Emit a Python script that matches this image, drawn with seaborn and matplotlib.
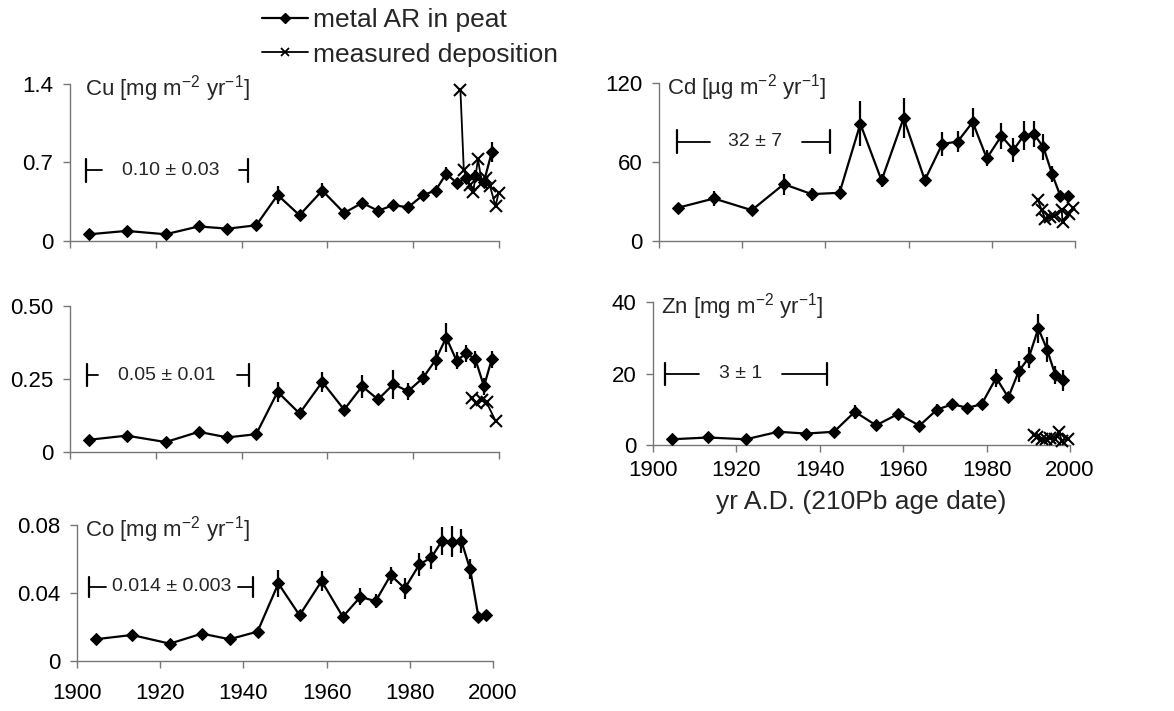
import numpy as np
import pandas as pd
import matplotlib
matplotlib.use("Agg")
import matplotlib.pyplot as plt
from matplotlib.lines import Line2D
import seaborn as sns

# ---- data -------------------------------------------------------------
years = [1904.5, 1913.2, 1922.3, 1930.0, 1936.7, 1943.4, 1948.4, 1953.5,
         1958.8, 1963.9, 1968.1, 1971.8, 1975.4, 1978.8, 1982.3, 1985.2,
         1987.7, 1990.1, 1992.4, 1994.5, 1996.5, 1998.3]

cu_peat = [0.06, 0.09, 0.06, 0.13, 0.11, 0.14, 0.41, 0.23, 0.45, 0.25, 0.34,
           0.27, 0.32, 0.30, 0.41, 0.45, 0.60, 0.52, 0.56, 0.58, 0.53, 0.79]
cu_err = [0.01, 0.01, 0.01, 0.02, 0.01, 0.02, 0.08, 0.02, 0.07, 0.02, 0.02,
          0.02, 0.03, 0.05, 0.04, 0.03, 0.06, 0.04, 0.04, 0.05, 0.03, 0.09]
cu_dep_years = [1991.0, 1991.8, 1993.2, 1994.0, 1995.1, 1996.0, 1996.9,
                1997.9, 1999.2, 1999.9]
cu_dep = [1.35, 0.63, 0.50, 0.44, 0.73, 0.52, 0.56, 0.49, 0.31, 0.43]

x_peat = [0.042, 0.056, 0.034, 0.069, 0.050, 0.061, 0.206, 0.132, 0.240,
          0.145, 0.225, 0.180, 0.232, 0.208, 0.254, 0.315, 0.392, 0.313,
          0.338, 0.317, 0.225, 0.317]
x_err = [0.008, 0.008, 0.006, 0.018, 0.008, 0.010, 0.035, 0.010, 0.035,
         0.015, 0.040, 0.020, 0.050, 0.030, 0.025, 0.035, 0.050, 0.030,
         0.030, 0.030, 0.030, 0.030]
x_dep_years = [1993.6, 1994.6, 1996.1, 1997.1, 1999.2]
x_dep = [0.186, 0.169, 0.177, 0.170, 0.106]

co_peat = [0.0128, 0.0153, 0.0102, 0.0161, 0.0128, 0.0173, 0.0456, 0.0269,
           0.0470, 0.0260, 0.0377, 0.0352, 0.0505, 0.0427, 0.0568, 0.0609,
           0.0706, 0.0702, 0.0706, 0.0540, 0.0260, 0.0269]
co_err = [0.001, 0.002, 0.001, 0.001, 0.001, 0.001, 0.008, 0.003, 0.006,
          0.002, 0.005, 0.004, 0.005, 0.006, 0.007, 0.007, 0.008, 0.009,
          0.007, 0.006, 0.002, 0.002]

cd_peat = [25.2, 32.3, 23.4, 43.2, 35.6, 36.6, 89.0, 46.0, 93.3, 46.3, 73.7,
           75.5, 90.3, 62.8, 79.8, 69.2, 80.1, 81.4, 71.2, 50.8, 34.1, 34.1]
cd_err = [4, 6, 3, 8, 5, 5, 17, 5, 15, 4, 9, 8, 11, 6, 10, 9, 11, 10, 10, 6,
          3, 3]
cd_dep_years = [1991.1, 1992.0, 1992.9, 1993.9, 1994.9, 1996.8, 1997.0,
                1998.6, 1999.6]
cd_dep = [31.0, 23.4, 16.5, 18.3, 19.1, 23.9, 14.5, 20.8, 25.2]

zn_peat = [1.6, 2.1, 1.6, 3.7, 3.2, 3.7, 9.3, 5.5, 8.7, 5.4, 9.9, 11.4, 10.4,
           11.4, 18.8, 13.3, 20.6, 24.4, 32.6, 26.7, 19.5, 18.1]
zn_err = [0.6, 0.6, 0.6, 0.8, 0.6, 0.8, 2.0, 1.0, 1.5, 1.0, 1.5, 1.5, 1.2,
          1.5, 2.5, 1.5, 3.0, 3.0, 4.0, 3.5, 2.5, 3.0]
zn_dep_years = [1991.4, 1992.2, 1993.2, 1994.2, 1995.2, 1996.4, 1997.4,
                1998.0, 1999.6]
zn_dep = [2.7, 2.2, 1.6, 1.8, 1.9, 1.6, 3.5, 1.2, 1.8]

x_ticks = [1900, 1920, 1940, 1960, 1980, 2000]

# ---- style ------------------------------------------------------------
sns.set_theme(style="ticks")
plt.rcParams["font.family"] = ["Liberation Sans", "DejaVu Sans"]
plt.rcParams["mathtext.fontset"] = "custom"
plt.rcParams["mathtext.rm"] = "Liberation Sans"
plt.rcParams["mathtext.it"] = "Liberation Sans:italic"
plt.rcParams["mathtext.bf"] = "Liberation Sans:bold"

AXC = "#777777"
YTICK_FS = 16
XTICK_FS = 16
W, H = 1174, 711
fig = plt.figure(figsize=(W / 100, H / 100), dpi=100)


def px_axes(x0, x1, ytop, ybot):
    return fig.add_axes([x0 / W, 1 - ybot / H, (x1 - x0) / W, (ybot - ytop) / H])


def panel(ax, peat, err, ymax, yticks, ylabels, title=None, title_dx=6,
          dep_x=None, dep_y=None, band=None, show_x=False, xpad=8):
    ax.errorbar(years, peat, yerr=err, fmt="none", ecolor="black",
                elinewidth=1.6, capsize=0, zorder=2)
    df = pd.DataFrame({"yr": years, "v": peat})
    sns.lineplot(data=df, x="yr", y="v", ax=ax, color="black", lw=1.6,
                 marker="D", markersize=6, markeredgecolor="black",
                 estimator=None, sort=False, zorder=3, clip_on=False)
    if dep_x is not None:
        dd = pd.DataFrame({"yr": dep_x, "v": dep_y})
        sns.lineplot(data=dd, x="yr", y="v", ax=ax, color="black", lw=1.3,
                     marker="x", markersize=8, markeredgewidth=1.5,
                     markeredgecolor="black", estimator=None, sort=False,
                     zorder=4, clip_on=False)
    ax.set_xlim(1900, 2000)
    ax.set_ylim(0, ymax)
    ax.set_xticks(x_ticks)
    ax.set_yticks(yticks)
    ax.set_yticklabels(ylabels)
    if not show_x:
        ax.set_xticklabels([])
    ax.set_xlabel("")
    ax.set_ylabel("")
    for s in ("top", "right"):
        ax.spines[s].set_visible(False)
    for s in ("left", "bottom"):
        ax.spines[s].set_color(AXC)
        ax.spines[s].set_linewidth(1.0)
    ax.tick_params(axis="both", colors=AXC, labelcolor="black", length=5,
                   width=1.0)
    ax.tick_params(axis="y", pad=7, labelsize=YTICK_FS)
    ax.tick_params(axis="x", pad=xpad, labelsize=XTICK_FS)
    ax.patch.set_alpha(0)
    if title is not None:
        ax.annotate(title, xy=(0, 1), xycoords="axes fraction",
                    xytext=(title_dx, -8), textcoords="offset points",
                    ha="left", va="baseline", fontsize=YTICK_FS)
    if band is not None:
        x0, xl, xr, x1, yv, txt, tx = band
        half = ymax * 0.075
        ax.plot([x0, xl], [yv, yv], color="black", lw=1.3)
        ax.plot([xr, x1], [yv, yv], color="black", lw=1.3)
        ax.plot([x0, x0], [yv - half, yv + half], color="black", lw=1.6)
        ax.plot([x1, x1], [yv - half, yv + half], color="black", lw=1.6)
        ax.text(tx, yv, txt, ha="center", va="center", fontsize=14)


# Cu
ax_cu = px_axes(70, 499, 84, 241)
panel(ax_cu, cu_peat, cu_err, 1.4, [0, 0.7, 1.4], ["0", "0.7", "1.4"],
      title="Cu [mg m$^{-2}$ yr$^{-1}$]", title_dx=11,
      dep_x=cu_dep_years, dep_y=cu_dep,
      band=(1903.7, 1907.4, 1939.4, 1941.5, 0.63, "0.10 ± 0.03", 1923.5))

# Cd
ax_cd = px_axes(659, 1075, 83, 241)
panel(ax_cd, cd_peat, cd_err, 120, [0, 60, 120], ["0", "60", "120"],
      title="Cd [µg m$^{-2}$ yr$^{-1}$]", title_dx=6,
      dep_x=cd_dep_years, dep_y=cd_dep,
      band=(1904.3, 1912.3, 1934.3, 1941.1, 75.5, "32 ± 7", 1923.0))

# unlabelled middle-left panel
ax_x = px_axes(70, 499, 306, 452)
panel(ax_x, x_peat, x_err, 0.5, [0, 0.25, 0.5], ["0", "0.25", "0.50"],
      dep_x=x_dep_years, dep_y=x_dep,
      band=(1903.9, 1906.6, 1939.0, 1941.8, 0.263, "0.05 ± 0.01", 1922.5))

# Zn
ax_zn = px_axes(653, 1070, 302, 445)
panel(ax_zn, zn_peat, zn_err, 40, [0, 20, 40], ["0", "20", "40"],
      title="Zn [mg m$^{-2}$ yr$^{-1}$]", title_dx=6,
      dep_x=zn_dep_years, dep_y=zn_dep,
      band=(1902.8, 1911.0, 1930.9, 1941.7, 19.9, "3 ± 1", 1920.9),
      show_x=True, xpad=6)
ax_zn.set_xlabel("yr A.D. (210Pb age date)", fontsize=19, labelpad=6)

# Co
ax_co = px_axes(77, 493, 525, 661)
panel(ax_co, co_peat, co_err, 0.08, [0, 0.04, 0.08], ["0", "0.04", "0.08"],
      title="Co [mg m$^{-2}$ yr$^{-1}$]", title_dx=6,
      band=(1903.0, 1907.0, 1938.6, 1942.4, 0.0436, "0.014 ± 0.003", 1922.8),
      show_x=True, xpad=11)

# shared legend
handles = [
    Line2D([], [], color="black", lw=1.6, marker="D", markersize=5),
    Line2D([], [], color="black", lw=1.3, marker="x", markersize=6,
           markeredgewidth=1.3),
]
fig.legend(handles, ["metal AR in peat", "measured deposition"],
           loc="upper left", bbox_to_anchor=(262 / W, 1 - 8 / H),
           frameon=False, fontsize=19, handlelength=1.75, handletextpad=0.2,
           labelspacing=0.4, borderpad=0, borderaxespad=0)

fig.savefig("out.png", dpi=100)
